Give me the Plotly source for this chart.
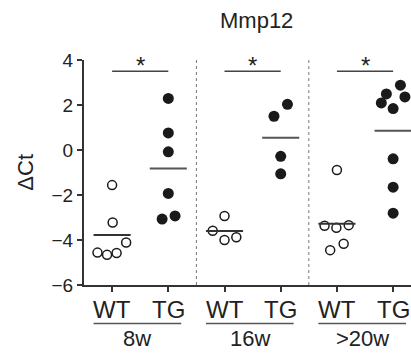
import plotly.graph_objects as go

# ---- data ----
groups = ["8w", "16w", ">20w"]
genotypes = ["WT", "TG"]
positions = [1, 2, 3, 4, 5, 6]  # WT/TG per group

wt_8w = [-1.56, -3.22, -4.11, -4.56, -4.66, -4.58]
tg_8w = [2.29, 0.76, -0.08, -1.93, -3.07, -2.93]
wt_16w = [-2.93, -3.59, -4.00, -3.88]
tg_16w = [2.03, 1.50, -0.28, -1.06]
wt_20w = [-0.89, -3.37, -3.46, -3.34, -4.17, -4.45]
tg_20w = [2.88, 2.49, 2.36, 2.09, 1.84, -0.39, -1.65, -2.81]

# horizontal scatter offsets (swarm layout)
jit_wt_8w = [0, 0.01, 0.25, -0.26, -0.09, 0.08]
jit_tg_8w = [0, 0, 0, 0, -0.11, 0.12]
jit_wt_16w = [0, -0.21, 0, 0.21]
jit_tg_16w = [0.12, -0.12, 0, 0]
jit_wt_20w = [0, -0.22, -0.01, 0.21, 0.12, -0.12]
jit_tg_20w = [0.13, -0.12, 0.21, -0.21, 0, 0, 0, 0]

significance = ["*", "*", "*"]
title = "Mmp12"
ylabel = "ΔCt"
yticks = [-6, -4, -2, 0, 2, 4]

series = [
    (wt_8w, jit_wt_8w), (tg_8w, jit_tg_8w),
    (wt_16w, jit_wt_16w), (tg_16w, jit_tg_16w),
    (wt_20w, jit_wt_20w), (tg_20w, jit_tg_20w),
]

FONT = "Liberation Sans, Arial, sans-serif"
TXT = "#222222"

fig = go.Figure()
shapes = []
annotations = []

for i, (vals, jit) in enumerate(series):
    pos = positions[i]
    is_wt = (i % 2 == 0)
    fig.add_trace(go.Scatter(
        x=[pos + j for j in jit], y=vals, mode="markers",
        marker=dict(
            size=9 if is_wt else 11,
            color="white" if is_wt else "#1a1a1a",
            line=dict(color="#1a1a1a", width=1.5 if is_wt else 0),
        ),
        showlegend=False, cliponaxis=False,
    ))
    m = sum(vals) / len(vals)
    shapes.append(dict(type="line", xref="x", yref="y",
                       x0=pos - 0.33, x1=pos + 0.33, y0=m, y1=m,
                       line=dict(color="#333333" if is_wt else "#555555", width=2)))
    annotations.append(dict(xref="x", yref="paper", x=pos, y=0,
                            text=genotypes[i % 2], showarrow=False,
                            yanchor="middle", yshift=-24,
                            font=dict(family=FONT, size=24, color=TXT)))

for g, name in enumerate(groups):
    wt_pos = positions[2 * g]
    tg_pos = positions[2 * g + 1]
    center = (wt_pos + tg_pos) / 2 - 0.05
    # group underline
    shapes.append(dict(type="line", xref="x", yref="paper",
                       x0=center - 0.78, x1=center + 0.78,
                       y0=-0.171, y1=-0.171,
                       line=dict(color="#555555", width=1.5)))
    annotations.append(dict(xref="x", yref="paper", x=center, y=0,
                            text=name, showarrow=False,
                            yanchor="bottom", yshift=-68,
                            font=dict(family=FONT, size=22, color=TXT)))
    # significance bar
    shapes.append(dict(type="line", xref="x", yref="y",
                       x0=wt_pos, x1=tg_pos, y0=3.5, y1=3.5,
                       line=dict(color="#444444", width=1.5)))
    annotations.append(dict(xref="x", yref="y", x=(wt_pos + tg_pos) / 2, y=4.0,
                            text=significance[g], showarrow=False,
                            yanchor="middle", yshift=-5,
                            font=dict(family=FONT, size=24, color=TXT)))
    # dotted separators
    if g > 0:
        shapes.append(dict(type="line", xref="x", yref="y",
                           x0=wt_pos - 0.5, x1=wt_pos - 0.5, y0=-6, y1=4,
                           line=dict(color="#777777", width=1, dash="dot")))

annotations.append(dict(xref="paper", yref="paper", x=0.528, y=1.176,
                        text=title, showarrow=False, yanchor="middle",
                        font=dict(family=FONT, size=22, color=TXT)))
annotations.append(dict(xref="paper", yref="paper", x=-0.18, y=0.5,
                        text=ylabel, showarrow=False, textangle=-90,
                        xanchor="center", yanchor="middle",
                        font=dict(family=FONT, size=22, color=TXT)))

fig.update_layout(
    width=411, height=354,
    margin=dict(l=84, r=0, t=60, b=69),
    paper_bgcolor="white", plot_bgcolor="white",
    shapes=shapes, annotations=annotations,
    xaxis=dict(range=[0.5, 6.318], tickvals=positions, showticklabels=False,
               ticks="outside", ticklen=5, tickwidth=1.5, tickcolor="#333333",
               showline=True, linecolor="#333333", linewidth=2,
               showgrid=False, zeroline=False),
    yaxis=dict(range=[-6, 4], tickvals=yticks,
               ticks="outside", ticklen=5, tickwidth=1.5, tickcolor="#333333",
               showline=True, linecolor="#333333", linewidth=2,
               showgrid=False, zeroline=False,
               tickfont=dict(family=FONT, size=19, color=TXT)),
)

fig.write_html("out.html")
